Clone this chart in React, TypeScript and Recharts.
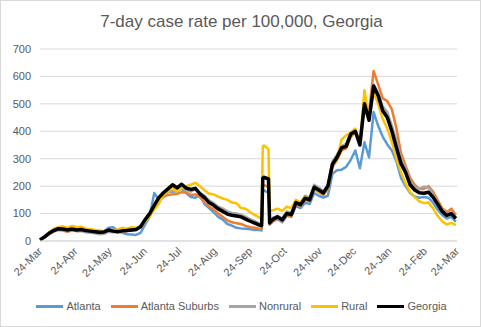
import { LineChart, Line, XAxis, YAxis, CartesianGrid } from 'recharts';

// day index counted from 24-Mar-2020
const days = [
  0, 4, 8, 12, 16, 20, 24, 28, 32, 36, 40, 44, 48, 52, 56, 60, 64, 68, 72, 76, 80, 84, 88, 92, 96,
  100, 104, 108, 112, 116, 120, 124, 128, 132, 136, 140, 144, 148, 152, 156, 160, 164, 168, 172,
  176, 180, 184, 188, 192, 194, 195, 196, 200, 201, 204, 208, 212, 216, 220, 224, 228, 232, 236,
  240, 244, 248, 252, 256, 260, 264, 268, 272, 276, 280, 284, 288, 292, 296, 300, 304, 308, 312,
  316, 320, 324, 328, 332, 336, 340, 344, 348, 352, 356, 360, 364,
];

const atlanta = [
  5, 18, 32, 42, 45, 42, 38, 42, 38, 40, 36, 34, 32, 30, 35, 48, 50, 38, 30, 25, 24, 22, 30, 60, 90,
  175, 150, 170, 180, 178, 185, 190, 175, 160, 158, 168, 135, 120, 105, 88, 78, 62, 56, 48,
  46, 45, 43, 40, 40, 38, 180, 185, 175, 60, 72, 80, 68, 92, 88, 128, 120, 140, 135,
  175, 165, 158, 165, 245, 258, 260, 270, 296, 330, 265, 360, 305, 470, 420, 380, 352, 330, 290,
  230, 200, 175, 162, 158, 160, 158, 140, 115, 95, 82, 88, 70,
];

const suburbs = [
  4, 14, 26, 34, 40, 38, 34, 38, 36, 38, 35, 33, 32, 32, 33, 40, 36, 34, 35, 36, 38, 40, 50, 75, 95,
  125, 145, 160, 168, 170, 172, 178, 176, 168, 170, 160, 140, 126, 115, 100, 88, 75, 68, 65,
  62, 55, 50, 48, 45, 44, 200, 205, 195, 62, 75, 82, 72, 95, 90, 135, 128, 150, 145,
  190, 178, 168, 190, 270, 295, 330, 338, 380, 395, 360, 490, 470, 620, 570, 520, 510, 480, 410,
  320, 275, 230, 205, 190, 190, 200, 180, 150, 120, 105, 118, 95,
];

const nonrural = [
  4, 14, 27, 36, 42, 40, 36, 40, 36, 36, 32, 30, 28, 25, 26, 34, 32, 32, 35, 36, 38, 42, 50, 72, 95,
  122, 150, 165, 178, 182, 180, 192, 185, 180, 190, 175, 165, 148, 138, 125, 118, 108, 102, 100,
  96, 88, 80, 72, 64, 62, 232, 235, 228, 70, 85, 92, 82, 108, 104, 148, 140, 165, 158,
  205, 195, 182, 205, 290, 315, 345, 355, 395, 405, 355, 505, 450, 570, 540, 490, 470, 420, 365,
  300, 265, 218, 198, 190, 198, 195, 170, 140, 112, 98, 104, 85,
];

const rural = [
  5, 12, 28, 45, 50, 54, 48, 55, 50, 52, 45, 44, 40, 38, 36, 38, 40, 42, 48, 45, 50, 48, 50, 70, 90,
  115, 135, 170, 180, 195, 180, 195, 200, 205, 212, 200, 185, 172, 170, 162, 155, 150, 140, 138,
  120, 118, 105, 95, 85, 82, 345, 348, 335, 110, 112, 118, 110, 125, 120, 150, 140, 160, 148,
  195, 180, 172, 195, 275, 300, 370, 385, 395, 410, 360, 550, 445, 540, 500, 445, 410, 360, 300,
  250, 210, 178, 160, 145, 138, 140, 120, 92, 72, 60, 66, 58,
];

const georgia = [
  4, 15, 28, 38, 45, 44, 40, 44, 40, 42, 38, 36, 34, 32, 33, 40, 36, 34, 37, 38, 40, 42, 52, 78, 100,
  130, 158, 176, 190, 205, 194, 207, 193, 188, 192, 172, 158, 140, 130, 117, 108, 98, 94, 91,
  88, 80, 72, 65, 58, 56, 229, 232, 226, 66, 80, 88, 77, 100, 96, 140, 132, 156, 150,
  196, 186, 175, 200, 280, 305, 340, 345, 390, 400, 350, 500, 440, 565, 530, 475, 450, 400, 340,
  282, 250, 205, 186, 176, 174, 178, 160, 135, 108, 93, 100, 82,
];

const monthTicks = [0, 31, 61, 92, 122, 153, 184, 214, 245, 275, 306, 337, 365];
const monthLabels = [
  '24-Mar', '24-Apr', '24-May', '24-Jun', '24-Jul', '24-Aug', '24-Sep',
  '24-Oct', '24-Nov', '24-Dec', '24-Jan', '24-Feb', '24-Mar',
];
const yTicks = [0, 100, 200, 300, 400, 500, 600, 700];

const series = [
  { key: 'atlanta', name: 'Atlanta', color: '#5B9BD5', width: 2.5 },
  { key: 'suburbs', name: 'Atlanta Suburbs', color: '#ED7D31', width: 2.5 },
  { key: 'nonrural', name: 'Nonrural', color: '#A5A5A5', width: 2.5 },
  { key: 'rural', name: 'Rural', color: '#FFC000', width: 2.5 },
  { key: 'georgia', name: 'Georgia', color: '#000000', width: 3.5 },
];

const data = days.map((day, i) => ({
  day,
  atlanta: atlanta[i],
  suburbs: suburbs[i],
  nonrural: nonrural[i],
  rural: rural[i],
  georgia: georgia[i],
}));

const FONT = '"Liberation Sans", Arial, sans-serif';
const TEXT = '#595959';

function MonthTick({ x, y, payload }: any) {
  const label = monthLabels[monthTicks.indexOf(payload.value)];
  return (
    <text
      x={x}
      y={y}
      dy={4}
      transform={`rotate(-45 ${x} ${y})`}
      textAnchor="end"
      fontSize={11}
      fill={TEXT}
      fontFamily={FONT}
    >
      {label}
    </text>
  );
}

export default function App() {
  return (
    <div
      style={{
        position: 'absolute',
        left: 0,
        top: 0,
        width: 481,
        height: 327,
        boxSizing: 'border-box',
        border: '1px solid #d9d9d9',
        background: '#fff',
        fontFamily: FONT,
      }}
    >
      <div
        style={{
          position: 'absolute',
          top: 11,
          left: 0,
          width: 481,
          textAlign: 'center',
          fontSize: 17,
          color: TEXT,
        }}
      >
        7-day case rate per 100,000, Georgia
      </div>
      <div style={{ position: 'absolute', left: -1, top: -1 }}>
        <LineChart
          width={481}
          height={327}
          data={data}
          margin={{ top: 49, right: 24, bottom: 0, left: 0 }}
        >
          <CartesianGrid vertical={false} stroke="#d9d9d9" />
          <XAxis
            dataKey="day"
            type="number"
            domain={[0, 365]}
            ticks={monthTicks}
            interval={0}
            tick={<MonthTick />}
            tickLine={false}
            axisLine={{ stroke: '#d9d9d9' }}
            height={86}
          />
          <YAxis
            domain={[0, 700]}
            ticks={yTicks}
            width={40}
            tickLine={false}
            axisLine={false}
            tickMargin={3}
            tick={{ fontSize: 11, fill: TEXT, fontFamily: FONT }}
          />
          {series.map((s) => (
            <Line
              key={s.key}
              type="linear"
              dataKey={s.key}
              name={s.name}
              stroke={s.color}
              strokeWidth={s.width}
              dot={false}
              strokeLinejoin="round"
              isAnimationActive={false}
            />
          ))}
        </LineChart>
      </div>
      <div
        style={{
          position: 'absolute',
          top: 299,
          left: 0,
          width: 481,
          display: 'flex',
          justifyContent: 'center',
          alignItems: 'center',
          fontSize: 11,
          color: TEXT,
        }}
      >
        {series.map((s) => (
          <div key={s.key} style={{ display: 'flex', alignItems: 'center', margin: '0 5px' }}>
            <span
              style={{ display: 'inline-block', width: 27, height: 3, background: s.color, marginRight: 3 }}
            />
            <span>{s.name}</span>
          </div>
        ))}
      </div>
    </div>
  );
}
